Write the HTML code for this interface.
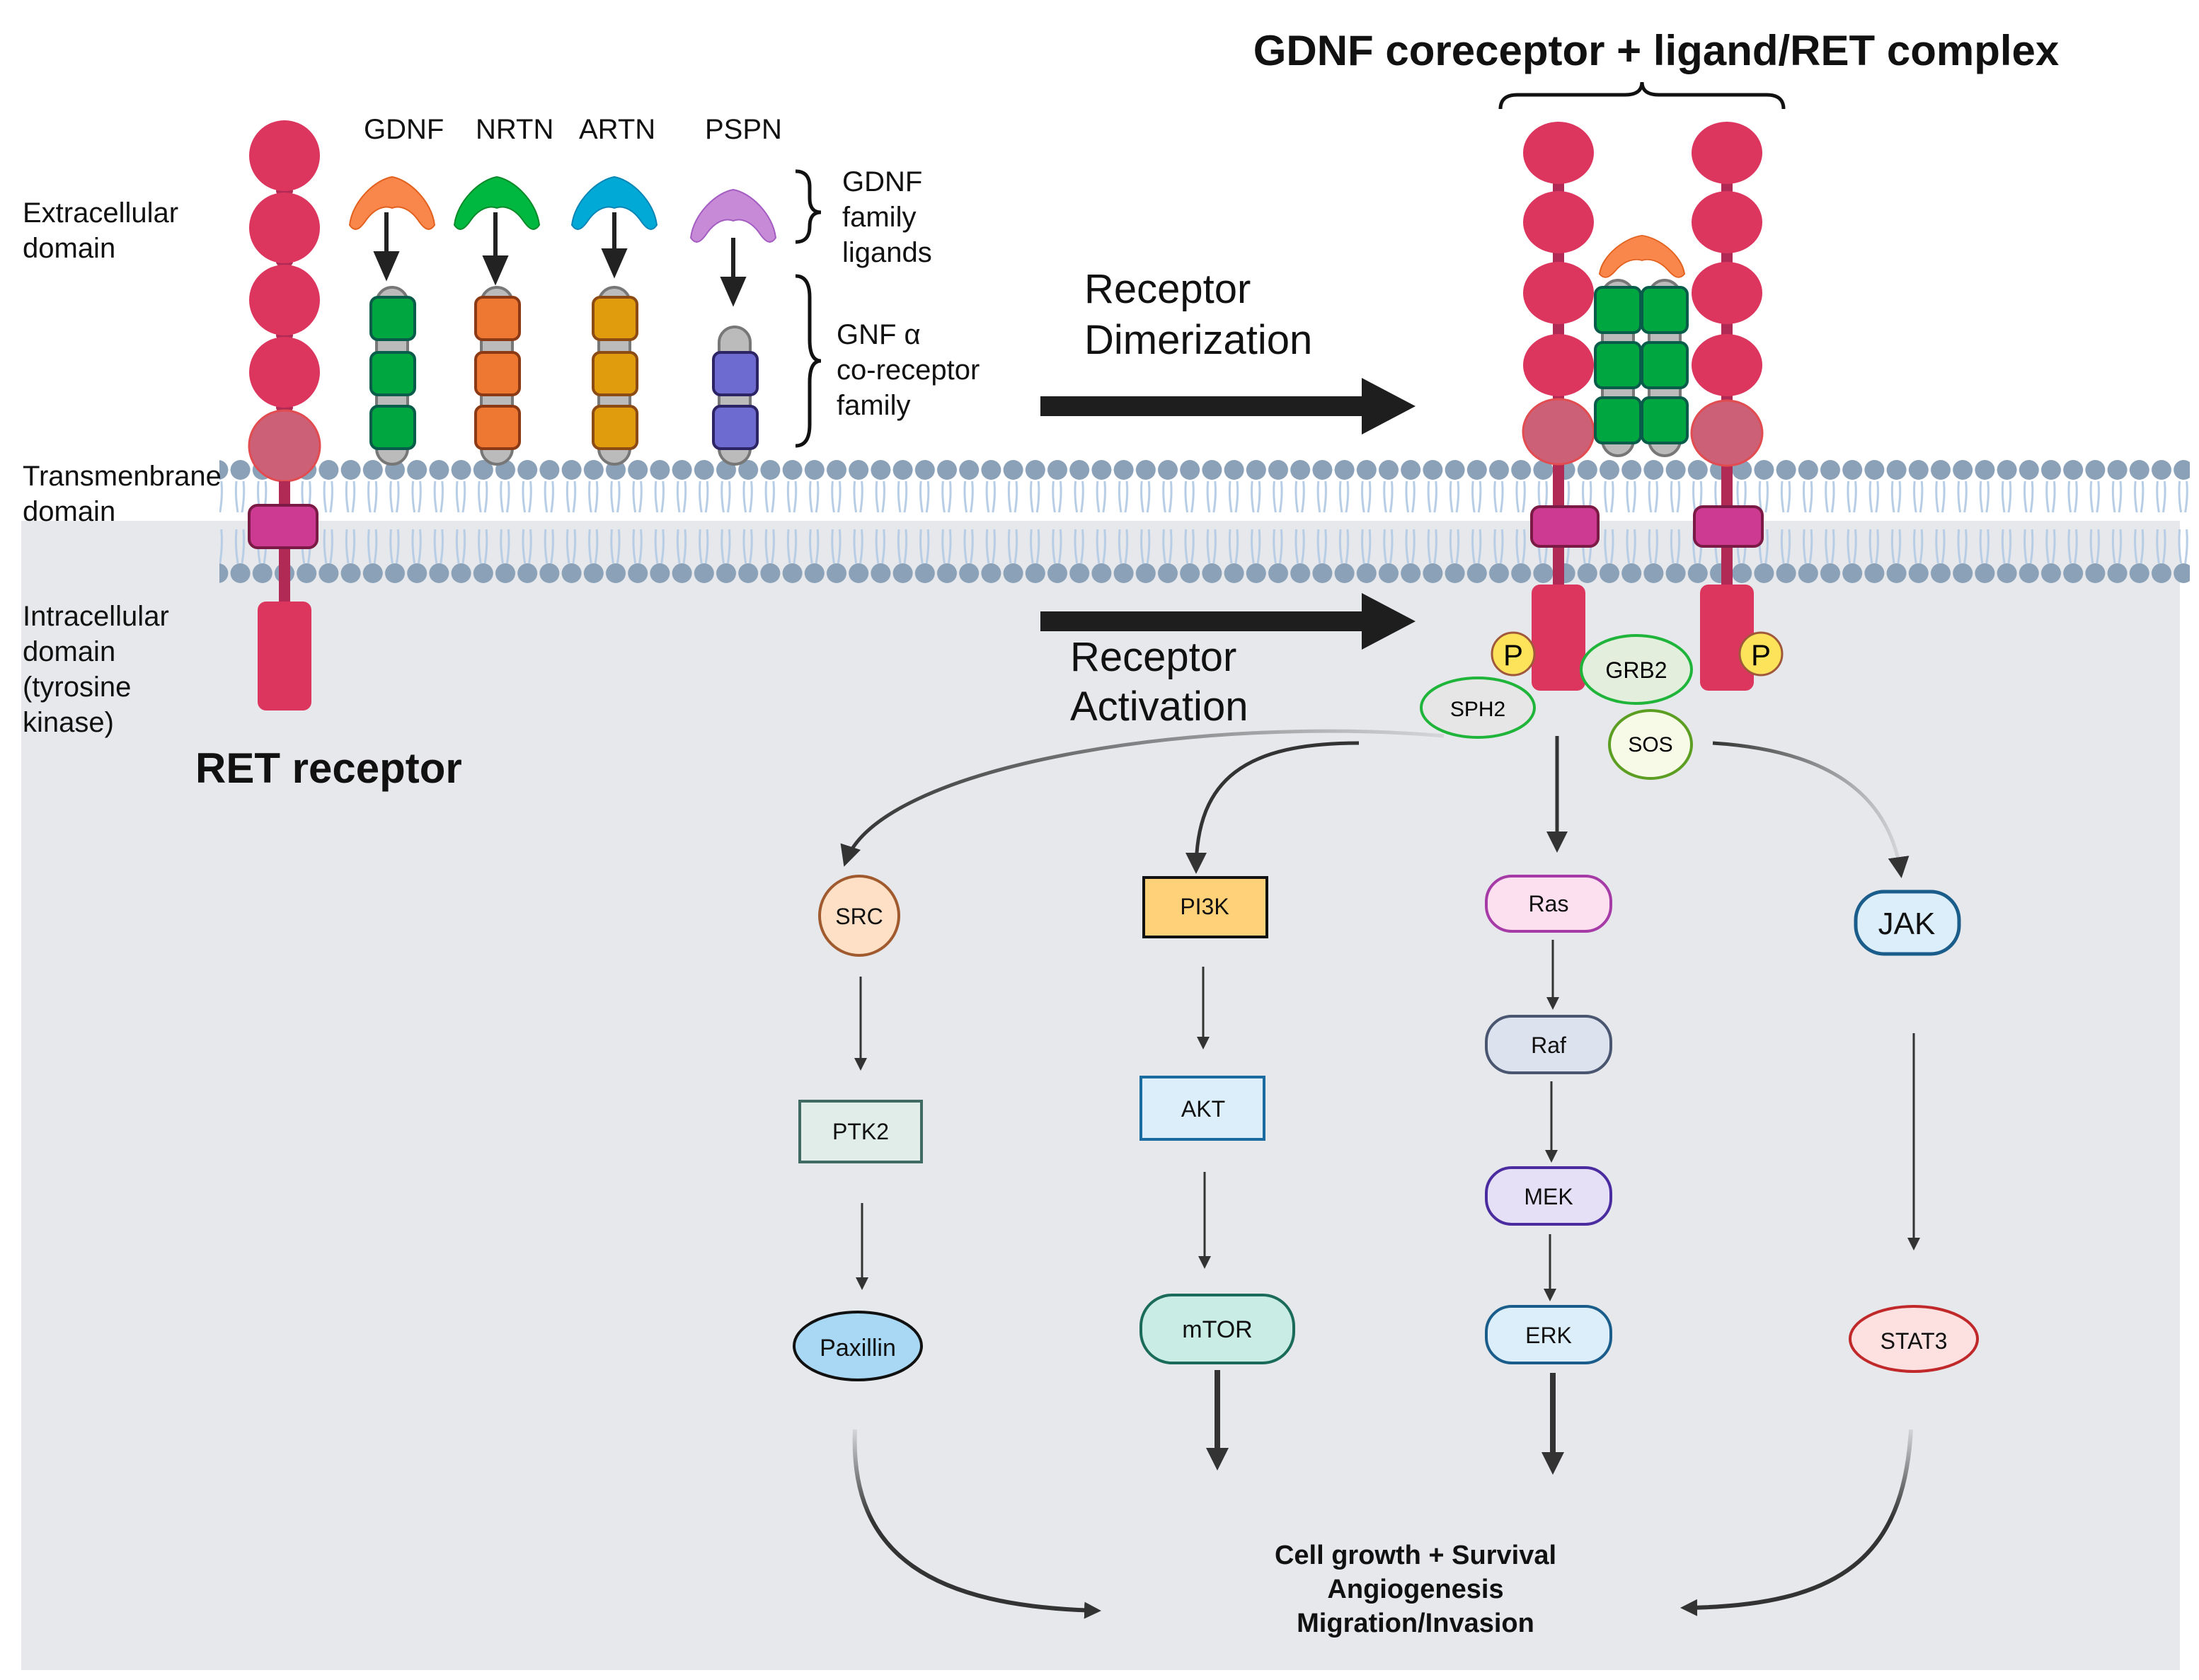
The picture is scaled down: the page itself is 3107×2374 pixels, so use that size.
<!DOCTYPE html>
<html><head><meta charset="utf-8"><style>html,body{margin:0;padding:0;background:#fff}svg{display:block}text{font-family:"Liberation Sans",sans-serif}</style></head>
<body>
<svg width="3107" height="2374" viewBox="0 0 1553.5 1187" xmlns="http://www.w3.org/2000/svg">
<defs>
<marker id="ah" markerWidth="6" markerHeight="6" refX="5" refY="3" orient="auto" markerUnits="strokeWidth"><path d="M0,0 L6,3 L0,6 Z" fill="#333"/></marker>
<marker id="ah2" markerWidth="4" markerHeight="4" refX="3" refY="2" orient="auto" markerUnits="strokeWidth"><path d="M0,0 L4,2 L0,4 Z" fill="#333"/></marker>
<linearGradient id="fadeL" x1="1" y1="0" x2="0" y2="0"><stop offset="0" stop-color="#333" stop-opacity="0.1"/><stop offset="1" stop-color="#333"/></linearGradient>
<linearGradient id="fadeD" x1="0" y1="0" x2="0" y2="1"><stop offset="0" stop-color="#333" stop-opacity="0.1"/><stop offset="0.5" stop-color="#333"/></linearGradient>
<pattern id="lip" x="162" y="0" width="15.6" height="1187" patternUnits="userSpaceOnUse">
<path d="M5,340 Q4,350 6,362 M10,340 Q11,350 9,362 M5,374 Q4,386 6,398 M10,374 Q11,386 9,398" stroke="#b7cde6" stroke-width="1.5" fill="none"/>
<circle cx="7.8" cy="332" r="7" fill="#8aa1b8"/><circle cx="7.8" cy="405" r="7" fill="#8aa1b8"/>
</pattern>
<g id="lig"><path d="M-30,22 C-28,5 -12,-10 0,-12 C12,-10 28,5 30,22 C26,28 22,24 18,18 C12,10 5,8 0,10 C-5,8 -12,10 -18,18 C-22,24 -26,28 -30,22Z"/></g>
</defs>
<rect x="15" y="368" width="1525" height="812" fill="#e6e8eb"/>
<rect x="155" y="320" width="1392" height="94" fill="url(#lip)"/>

<!-- left RET -->
<g fill="#dc365e">
<rect x="197" y="120" width="8" height="220" fill="#b02a55"/>
<ellipse cx="201" cy="135" rx="6" ry="4" fill="#b02a55"/><ellipse cx="201" cy="185" rx="6" ry="4" fill="#b02a55"/><ellipse cx="201" cy="237" rx="6" ry="4" fill="#b02a55"/><ellipse cx="201" cy="288" rx="6" ry="4" fill="#b02a55"/>
<circle cx="201" cy="110" r="25"/><circle cx="201" cy="161" r="25"/><circle cx="201" cy="212" r="25"/><circle cx="201" cy="263" r="25"/>
<circle cx="201" cy="315" r="25" fill="#cc6077" stroke="#e24c50" stroke-width="1.5"/>
<rect x="197" y="340" width="8" height="90" fill="#b02a55"/>
<rect x="176" y="357" width="48" height="30" rx="6" fill="#cc3a92" stroke="#7a1a45" stroke-width="2"/>
<rect x="182" y="425" width="38" height="77" rx="6"/>
</g>

<!-- right RETs -->
<g fill="#dc365e">
<rect x="1097" y="110" width="8" height="320" fill="#b02a55"/>
<rect x="1216" y="110" width="8" height="320" fill="#b02a55"/>
<ellipse cx="1101" cy="108" rx="25" ry="22"/><ellipse cx="1101" cy="157" rx="25" ry="22"/><ellipse cx="1101" cy="207" rx="25" ry="22"/><ellipse cx="1101" cy="258" rx="25" ry="22"/>
<ellipse cx="1220" cy="108" rx="25" ry="22"/><ellipse cx="1220" cy="157" rx="25" ry="22"/><ellipse cx="1220" cy="207" rx="25" ry="22"/><ellipse cx="1220" cy="258" rx="25" ry="22"/>
<ellipse cx="1101" cy="305" rx="25" ry="23" fill="#cc6077" stroke="#e24c50" stroke-width="1.5"/>
<ellipse cx="1220" cy="306" rx="25" ry="23" fill="#cc6077" stroke="#e24c50" stroke-width="1.5"/>
<rect x="1082" y="358" width="47" height="28" rx="6" fill="#cc3a92" stroke="#7a1a45" stroke-width="2"/>
<rect x="1197" y="358" width="48" height="28" rx="6" fill="#cc3a92" stroke="#7a1a45" stroke-width="2"/>
<rect x="1082" y="413" width="38" height="75" rx="6"/>
<rect x="1201" y="413" width="38" height="75" rx="6"/>
</g>

<!-- co-receptors -->
<g stroke-width="2">
<rect x="266" y="203" width="22" height="125" rx="11" fill="#bbb" stroke="#777"/>
<rect x="340" y="203" width="22" height="125" rx="11" fill="#bbb" stroke="#777"/>
<rect x="423" y="203" width="22" height="125" rx="11" fill="#bbb" stroke="#777"/>
<rect x="508" y="231" width="22" height="97" rx="11" fill="#bbb" stroke="#777"/>
<g fill="#00a63f" stroke="#0a5c4a"><rect x="262" y="210" width="31" height="30" rx="5"/><rect x="262" y="249" width="31" height="30" rx="5"/><rect x="262" y="287" width="31" height="30" rx="5"/></g>
<g fill="#ee7731" stroke="#8c3a15"><rect x="336" y="210" width="31" height="30" rx="5"/><rect x="336" y="249" width="31" height="30" rx="5"/><rect x="336" y="287" width="31" height="30" rx="5"/></g>
<g fill="#e09c0d" stroke="#8c4a15"><rect x="419" y="210" width="31" height="30" rx="5"/><rect x="419" y="249" width="31" height="30" rx="5"/><rect x="419" y="287" width="31" height="30" rx="5"/></g>
<g fill="#6d6ad0" stroke="#2d2466"><rect x="504" y="249" width="31" height="30" rx="5"/><rect x="504" y="287" width="31" height="30" rx="5"/></g>
<rect x="1132" y="198" width="22" height="124" rx="11" fill="#bbb" stroke="#777"/>
<rect x="1165" y="198" width="22" height="124" rx="11" fill="#bbb" stroke="#777"/>
<g fill="#00a63f" stroke="#0a5c4a"><rect x="1127" y="203" width="32" height="32" rx="5"/><rect x="1127" y="242" width="32" height="32" rx="5"/><rect x="1127" y="281" width="32" height="32" rx="5"/><rect x="1160" y="203" width="32" height="32" rx="5"/><rect x="1160" y="242" width="32" height="32" rx="5"/><rect x="1160" y="281" width="32" height="32" rx="5"/></g>
</g>

<!-- ligands -->
<use href="#lig" transform="translate(277,137)" fill="#f9864b" stroke="#e2601d"/>
<use href="#lig" transform="translate(351,137)" fill="#00b73f" stroke="#0a8a2a"/>
<use href="#lig" transform="translate(434,137)" fill="#00a9d6" stroke="#0a85b5"/>
<use href="#lig" transform="translate(518,146)" fill="#c78ad6" stroke="#a35cc2"/>
<use href="#lig" transform="translate(1160,176) scale(1,0.8)" fill="#f9864b" stroke="#e2601d"/>

<!-- small arrows -->
<g stroke="#222" stroke-width="3" fill="#222">
<line x1="273" y1="150" x2="273" y2="180"/><path d="M266,179 L280,179 L273,195Z"/>
<line x1="350" y1="150" x2="350" y2="183"/><path d="M343,182 L357,182 L350,198Z"/>
<line x1="434" y1="150" x2="434" y2="178"/><path d="M427,177 L441,177 L434,193Z"/>
<line x1="518" y1="168" x2="518" y2="198"/><path d="M511,197 L525,197 L518,213Z"/>
</g>

<!-- big arrows -->
<path d="M735,280 L962,280 L962,267 L1000,287 L962,307 L962,294 L735,294Z" fill="#1e1e1e"/>
<path d="M735,432 L962,432 L962,419 L1000,439 L962,459 L962,446 L735,446Z" fill="#1e1e1e"/>

<!-- braces -->
<path d="M562,121 Q572,121 572,132 L572,140 Q572,150 580,150 Q572,150 572,160 L572,160 Q572,171 562,171" stroke="#111" stroke-width="2.5" fill="none"/>
<path d="M562,195 Q572,195 572,210 L572,240 Q572,255 580,255 Q572,255 572,270 L572,300 Q572,315 562,315" stroke="#111" stroke-width="2.5" fill="none"/>
<path d="M1060,77 Q1060,67 1072,67 L1148,67 Q1160,67 1160,58 Q1160,67 1172,67 L1248,67 Q1260,67 1260,77" stroke="#111" stroke-width="2.5" fill="none"/>

<!-- P, adaptors -->
<circle cx="1069" cy="462" r="15" fill="#fde35a" stroke="#a0583a" stroke-width="1.5"/><text x="1069" y="470" font-size="21" text-anchor="middle">P</text>
<circle cx="1244" cy="462" r="15" fill="#fde35a" stroke="#a0583a" stroke-width="1.5"/><text x="1244" y="470" font-size="21" text-anchor="middle">P</text>
<ellipse cx="1044" cy="500" rx="40" ry="21" fill="#e6e6e6" stroke="#1fb43a" stroke-width="2"/><text x="1044" y="506" font-size="15" text-anchor="middle">SPH2</text>
<ellipse cx="1156" cy="473" rx="39" ry="24" fill="#e3eedd" stroke="#1fb43a" stroke-width="2"/><text x="1156" y="479" font-size="16" text-anchor="middle">GRB2</text>
<ellipse cx="1166" cy="526" rx="29" ry="24" fill="#f6fae6" stroke="#5c9e22" stroke-width="2"/><text x="1166" y="531" font-size="15" text-anchor="middle">SOS</text>

<!-- curves -->
<g fill="none" stroke-width="2.5">
<path d="M1020,520 C850,505 620,540 597,610" stroke="url(#fadeL)" marker-end="url(#ah)"/>
<path d="M960,525 C880,525 845,550 845,615" stroke="#333" marker-end="url(#ah)"/>
<path d="M1210,525 C1290,530 1335,560 1343,618" stroke="url(#fadeL)" marker-end="url(#ah)"/>
<path d="M1100,520 L1100,600" stroke="#333" marker-end="url(#ah)"/>
<path d="M608,690 L608,755" stroke="#333" stroke-width="1.5" marker-end="url(#ah)"/>
<path d="M609,850 L609,910" stroke="#333" stroke-width="1.5" marker-end="url(#ah)"/>
<path d="M850,683 L850,740" stroke="#333" stroke-width="1.5" marker-end="url(#ah)"/>
<path d="M851,828 L851,895" stroke="#333" stroke-width="1.5" marker-end="url(#ah)"/>
<path d="M1097,664 L1097,712" stroke="#333" stroke-width="1.5" marker-end="url(#ah)"/>
<path d="M1096,764 L1096,820" stroke="#333" stroke-width="1.5" marker-end="url(#ah)"/>
<path d="M1095,872 L1095,918" stroke="#333" stroke-width="1.5" marker-end="url(#ah)"/>
<path d="M1352,730 L1352,882" stroke="#333" stroke-width="1.5" marker-end="url(#ah)"/>
<path d="M860,968 L860,1035" stroke="#333" stroke-width="4" marker-end="url(#ah2)"/>
<path d="M1097,970 L1097,1038" stroke="#333" stroke-width="4" marker-end="url(#ah2)"/>
<path d="M604,1010 C600,1100 660,1135 775,1138" stroke="url(#fadeD)" stroke-width="3" marker-end="url(#ah2)"/>
<path d="M1350,1010 C1345,1100 1300,1135 1190,1136" stroke="url(#fadeD)" stroke-width="3" marker-end="url(#ah2)"/>
</g>

<!-- nodes -->
<g stroke-width="2">
<circle cx="607" cy="647" r="28" fill="#fde0c6" stroke="#a05a2e"/>
<rect x="808" y="620" width="87" height="42" fill="#ffd178" stroke="#111"/>
<rect x="1050" y="619" width="88" height="39" rx="18" fill="#fde0f0" stroke="#a63aa7"/>
<rect x="1311" y="630" width="73" height="44" rx="20" fill="#ddeefb" stroke="#1a5c8a" stroke-width="2.5"/>
<rect x="565" y="778" width="86" height="43" fill="#e0ede9" stroke="#3f6b63"/>
<rect x="806" y="761" width="87" height="44" fill="#ddeefb" stroke="#1a6ba0"/>
<rect x="1050" y="718" width="88" height="40" rx="18" fill="#dde2ef" stroke="#4a5570"/>
<rect x="1050" y="825" width="88" height="40" rx="18" fill="#e6e0f6" stroke="#4a2ca0"/>
<rect x="1050" y="923" width="88" height="40" rx="18" fill="#ddeefb" stroke="#1a5c8a"/>
<ellipse cx="606" cy="951" rx="45" ry="24" fill="#a8d8f3" stroke="#111"/>
<rect x="806" y="915" width="108" height="48" rx="22" fill="#c9ece4" stroke="#1a6b5a"/>
<ellipse cx="1352" cy="946" rx="45" ry="23" fill="#fde0e0" stroke="#c0282a"/>
</g>
<g font-size="16" text-anchor="middle" fill="#111">
<text x="607" y="653">SRC</text><text x="851" y="646">PI3K</text><text x="1094" y="644">Ras</text>
<text x="1347" y="660" font-size="22">JAK</text>
<text x="608" y="805">PTK2</text><text x="850" y="789">AKT</text><text x="1094" y="744">Raf</text>
<text x="1094" y="851">MEK</text><text x="1094" y="949">ERK</text>
<text x="606" y="958" font-size="17">Paxillin</text><text x="860" y="945" font-size="17">mTOR</text><text x="1352" y="953">STAT3</text>
</g>

<!-- labels -->
<g fill="#111" font-size="20">
<text x="16" y="157">Extracellular</text><text x="16" y="182">domain</text>
<text x="16" y="343">Transmenbrane</text><text x="16" y="368">domain</text>
<text x="16" y="442">Intracellular</text><text x="16" y="467">domain</text><text x="16" y="492">(tyrosine</text><text x="16" y="517">kinase)</text>
<text x="257" y="98">GDNF</text><text x="336" y="98">NRTN</text><text x="409" y="98">ARTN</text><text x="498" y="98">PSPN</text>
<text x="595" y="135">GDNF</text><text x="595" y="160">family</text><text x="595" y="185">ligands</text>
<text x="591" y="243">GNF α</text><text x="591" y="268">co-receptor</text><text x="591" y="293">family</text>
<text x="766" y="214" font-size="29">Receptor</text><text x="766" y="250" font-size="29">Dimerization</text>
<text x="756" y="474" font-size="29">Receptor</text><text x="756" y="509" font-size="29">Activation</text>
</g>
<text x="138" y="553" font-size="30" font-weight="bold" fill="#111">RET receptor</text>
<text x="1170" y="46" font-size="30" font-weight="bold" fill="#111" text-anchor="middle">GDNF coreceptor + ligand/RET complex</text>
<g font-size="19" font-weight="bold" fill="#111" text-anchor="middle">
<text x="1000" y="1105">Cell growth + Survival</text><text x="1000" y="1129">Angiogenesis</text><text x="1000" y="1153">Migration/Invasion</text>
</g>
</svg>
</body></html>
